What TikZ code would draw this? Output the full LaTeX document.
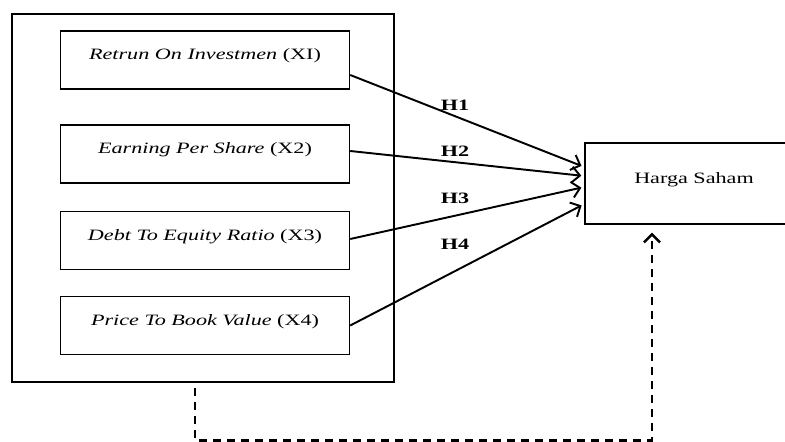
\documentclass[tikz,border=0pt]{standalone}
\usepackage{fontspec}
\setmainfont[FakeStretch=1.4]{Liberation Serif}
\usepackage{tikz}
\usetikzlibrary{arrows.meta, positioning}

\begin{document}
\begin{tikzpicture}[
    varbox/.style={rectangle, draw, line width=0.8pt, minimum width=5.78cm, minimum height=1.16cm, text height=2.4mm, text depth=2.4mm, font=\fontsize{9}{11}\selectfont},
    groupbox/.style={rectangle, draw, line width=1.5pt, minimum width=7.64cm, minimum height=7.36cm},
    targetbox/.style={rectangle, draw, line width=0.8pt, minimum width=4.36cm, minimum height=1.62cm, text height=2.4mm, text depth=2.4mm, font=\fontsize{9}{11}\selectfont},
    hyp/.style={font=\fontsize{9}{11}\selectfont\bfseries},
    arrow/.style={-{Straight Barb[length=1.6mm, width=3.2mm]}, line width=1.1pt, shorten >=0.06cm},
    dashlink/.style={-{Straight Barb[length=1.6mm, width=3.2mm]}, line width=1.4pt, dash pattern=on 0.16cm off 0.12cm}
]
    \path[use as bounding box, clip] (0,0) rectangle (15.7,-8.84);

    % Independent variables
    \node[groupbox] (indep) at (4.06, -3.96) {};
    \node[varbox] (roi) at (4.1, -1.2) {\textit{Retrun On Investmen} (XI)};
    \node[varbox] (eps) at (4.1, -3.08) {\textit{Earning Per Share} (X2)};
    \node[varbox] (der) at (4.1, -4.81) {\textit{Debt To Equity Ratio} (X3)};
    \node[varbox] (pbv) at (4.1, -6.51) {\textit{Price To Book Value} (X4)};

    % Dependent variable
    \node[targetbox] (harga) at (13.88, -3.67) {Harga Saham};

    % Hypotheses
    \draw[arrow] ([yshift=-0.3cm]roi.east) -- ([yshift=0.33cm]harga.west);
    \draw[arrow] ([yshift=0.06cm]eps.east) -- ([yshift=0.15cm]harga.west);
    \draw[arrow] ([yshift=0.03cm]der.east) -- ([yshift=-0.07cm]harga.west);
    \draw[arrow] (pbv.east) -- ([yshift=-0.41cm]harga.west);

    \node[hyp] (h1) at (9.1, -2.1) {H1};
    \node[hyp] (h2) at (9.1, -3.02) {H2};
    \node[hyp] (h3) at (9.1, -3.96) {H3};
    \node[hyp] (h4) at (9.1, -4.88) {H4};

    % Simultaneous effect
    \draw[dashlink] ([xshift=-0.16cm, yshift=-0.1cm]indep.south) -- ++(0, -1.04) -| ([xshift=-0.84cm, yshift=-0.16cm]harga.south);
\end{tikzpicture}
\end{document}
